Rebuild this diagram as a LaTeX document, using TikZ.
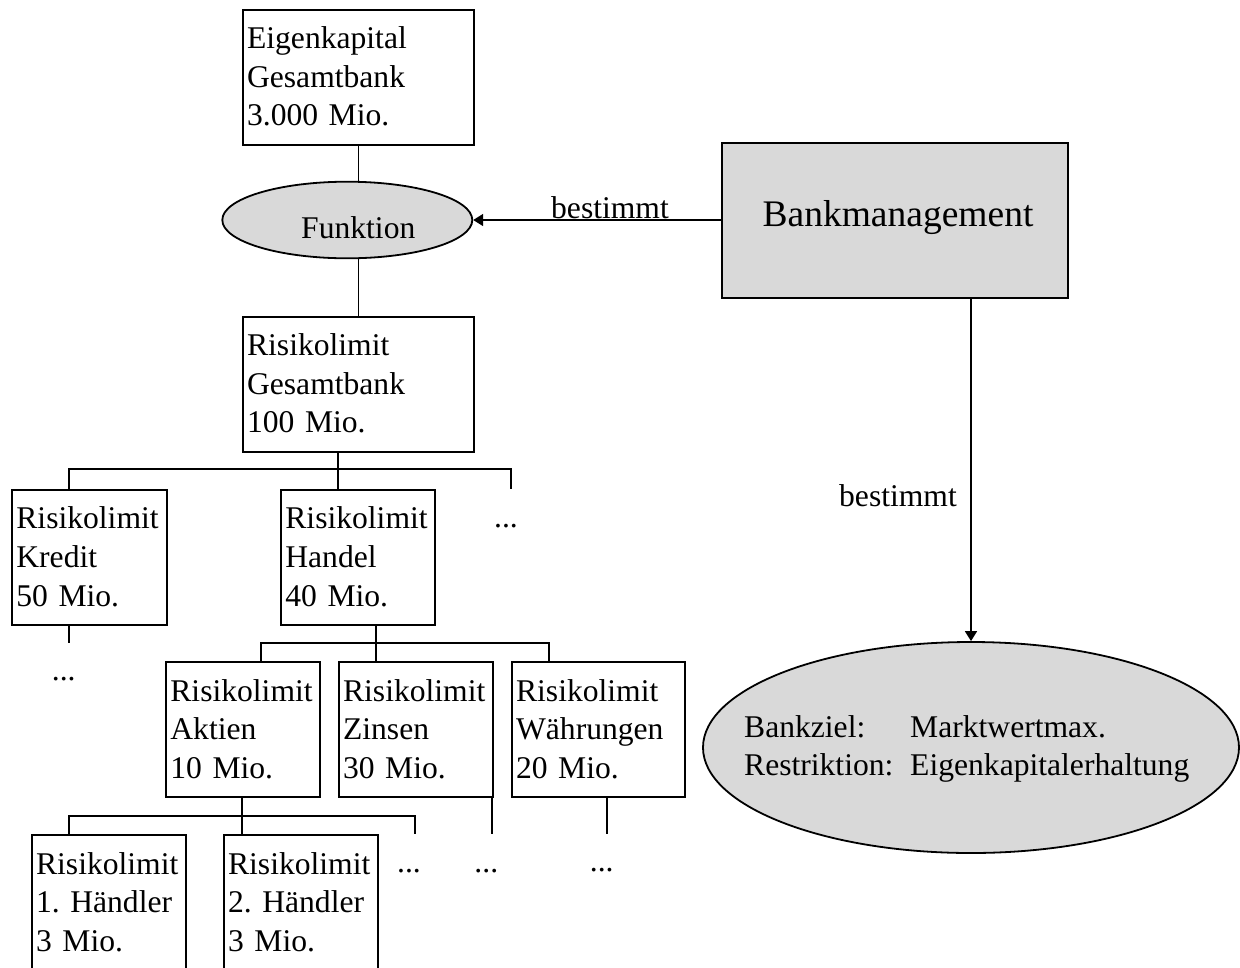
\documentclass[tikz,border=0pt]{standalone}
\usepackage{fontspec}
\setmainfont{Liberation Serif}
\usetikzlibrary{arrows.meta,shapes.geometric}
\newcommand\fsm{\frenchspacing\fontsize{31.6}{38.6}\selectfont}
\newcommand\fbig{\frenchspacing\fontsize{37.5}{45}\selectfont}
\definecolor{fillgray}{gray}{0.85}
\begin{document}
\begin{tikzpicture}[x=1pt,y=-1pt,
  every node/.style={font=\fsm},
  lbox/.style={draw, line width=1.8pt, anchor=north west, inner xsep=4.5pt, inner ysep=0pt,
    text width=#1, align=left, text height=39pt, text depth=96pt},
  conn/.style={line width=1.7pt},
  arr/.style={conn, -{Triangle[length=10pt,width=12pt]}},
  lbl/.style={anchor=base, inner sep=0pt},
  dots/.style={anchor=base, inner sep=0pt},
  grayell/.style={draw, ellipse, line width=1.8pt, fill=fillgray, inner sep=0pt}]

\path[use as bounding box] (0,0) rectangle (1240,967);
\clip (0,0) rectangle (1240,967);

% left hierarchy
\node[lbox=222.6pt] (ek) at (241.7,8.7) {Eigenkapital\\Gesamtbank\\3.000 Mio.};
\node[grayell, minimum width=250pt, minimum height=76.6pt, text height=36.6pt, text depth=0pt]
  (fn) at (347.3,220) {\hspace*{22pt}Funktion};
\node[lbox=222.6pt] (rg) at (241.7,315.7) {Risikolimit\\Gesamtbank\\100 Mio.};

\node[lbox=145.7pt] (kr) at (11,489) {Risikolimit\\Kredit\\50 Mio.};
\node[lbox=145.3pt] (hd) at (280,489) {Risikolimit\\Handel\\40 Mio.};

\node[lbox=145.3pt] (ak) at (165,661.3) {Risikolimit\\Aktien\\10 Mio.};
\node[lbox=145.3pt] (zi) at (337.7,661.3) {Risikolimit\\Zinsen\\30 Mio.};
\node[lbox=164.6pt] (wa) at (510.7,661.3) {Risikolimit\\Währungen\\20 Mio.};

\node[lbox=145.3pt] (h1) at (30.7,834.3) {Risikolimit\\1. Händler\\3 Mio.};
\node[lbox=145.3pt] (h2) at (222.7,834.3) {Risikolimit\\2. Händler\\3 Mio.};

% right side
\node[draw, rectangle, line width=1.8pt, fill=fillgray, minimum width=346.6pt, minimum height=154.4pt,
  inner sep=0pt, text height=12.4pt, text depth=0pt, font=\fbig] (bm) at (895,220.5) {\hspace*{6pt}Bankmanagement};
\node[grayell, minimum width=536pt, minimum height=211pt] (bz) at (971,747.5) {};
\node[anchor=base west, inner sep=0pt] (bzt) at (744,737)
  {\begin{tabular}[t]{@{}l@{}}\makebox[166pt][l]{Bankziel:}Marktwertmax.\\
   \makebox[166pt][l]{Restriktion:}Eigenkapitalerhaltung\end{tabular}};

% connectors top
\draw[conn] (ek.south) -- (ek.south |- fn.north);
\draw[conn] (fn.south -| rg.north) -- (rg.north);
\draw[arr] (bm.west |- fn.east) -- (fn.east);
\node[lbl] (l1) at (610,218.3) {bestimmt};
\draw[arr] (bm.south -| bz.north) -- (bz.north);
\node[lbl] (l2) at (898,506.7) {bestimmt};

% bus 1
\coordinate (j1) at (337.7,469);
\coordinate (b1l) at (69,469);
\coordinate (b1r) at (510.7,469);
\coordinate (e1) at (510.7,489);
\draw[conn] (rg.south -| j1) -- (hd.north -| j1);
\draw[conn] (kr.north -| b1l) -- (b1l) -- (b1r) -- (e1);
\coordinate (ke) at (69,642.7);
\draw[conn] (kr.south -| ke) -- (ke);

% bus 2
\coordinate (j2) at (376,642.7);
\coordinate (b2l) at (261,642.7);
\coordinate (b2r) at (549,642.7);
\draw[conn] (hd.south -| j2) -- (zi.north -| j2);
\draw[conn] (ak.north -| b2l) -- (b2l) -- (b2r) -- (wa.north -| b2r);

% bus 3
\coordinate (j3) at (241.7,815.7);
\coordinate (b3l) at (69,815.7);
\coordinate (b3r) at (415,815.7);
\coordinate (e3) at (415,834.3);
\draw[conn] (ak.south -| j3) -- (h2.north -| j3);
\draw[conn] (h1.north -| b3l) -- (b3l) -- (b3r) -- (e3);
\coordinate (ze) at (491.7,834.3);
\draw[conn] (zi.south -| ze) -- (ze);
\coordinate (we) at (606.7,834.3);
\draw[conn] (wa.south -| we) -- (we);

% dots
\node[dots] (d1) at (506,527.3) {...};
\node[dots] (d2) at (63.7,680) {...};
\node[dots] (d3) at (409,872.7) {...};
\node[dots] (d4) at (486.3,872) {...};
\node[dots] (d5) at (601.7,871.7) {...};
\end{tikzpicture}
\end{document}
